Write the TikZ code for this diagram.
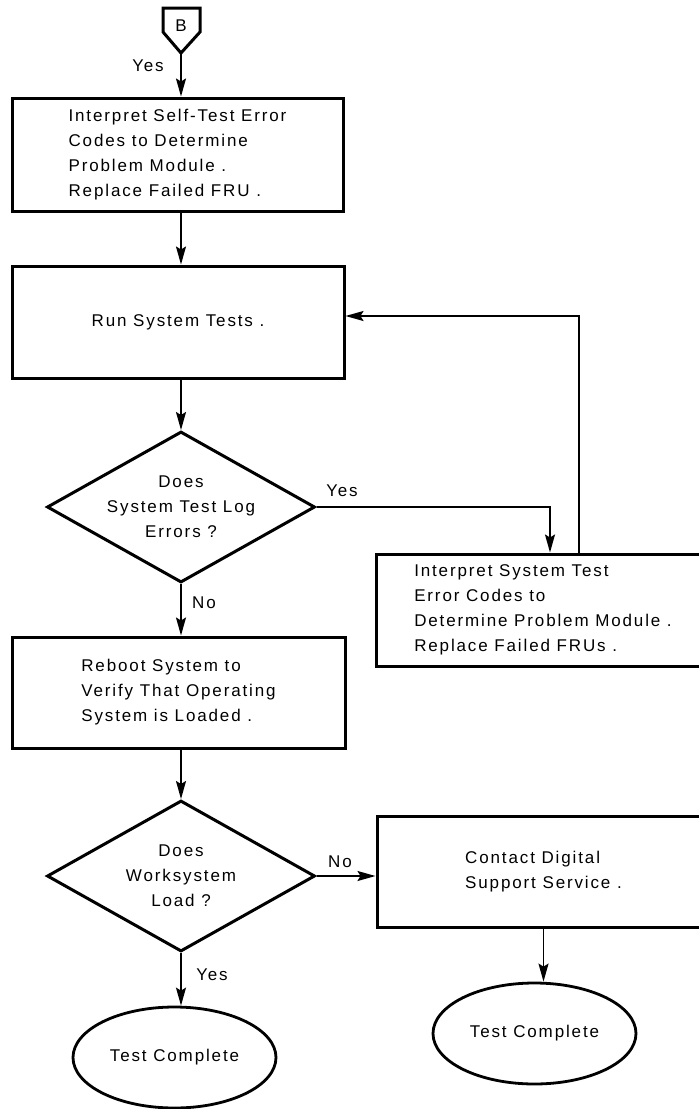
\documentclass[tikz,border=0pt]{standalone}
\usepackage{fontspec}
\setmainfont{Liberation Sans}[LetterSpace=11]
\usetikzlibrary{shapes.geometric, arrows.meta}

\begin{document}
\begin{tikzpicture}[x=1pt, y=-1pt,
  font=\fontsize{17}{25}\selectfont,
  procbox/.style={draw, line width=3pt, align=left, inner sep=0pt},
  decision/.style={draw, diamond, line width=3pt, align=center, inner sep=-45pt,
    minimum width=268pt, minimum height=151pt},
  terminal/.style={draw, ellipse, line width=2.8pt, inner sep=0pt,
    minimum width=203pt, minimum height=101pt},
  conn/.style={line width=1.6pt, -{Stealth[length=18pt, width=10pt, inset=3pt]}}]
\useasboundingbox (0,0) rectangle (699,1109);

% off-page connector
\node (conB) at (181,26) {B};
\draw[line width=3pt] (163,8) -- (200,8) -- (200,32) -- (181,53) -- (163,32) -- cycle;
\coordinate (conBtip) at (181,53);

% boxes
\node[procbox, minimum width=331pt, minimum height=113pt] (selftest) at (177.5,154.5)
  {Interpret Self-Test Error\\Codes to Determine\\Problem Module .\\Replace Failed FRU .};
\node[procbox, minimum width=332pt, minimum height=112pt] (runtests) at (178,322)
  {Run System Tests .};
\node[procbox, minimum width=334pt, minimum height=112pt] (sysfix) at (543,610)
  {Interpret System Test\\Error Codes to\\Determine Problem Module .\\Replace Failed FRUs .};
\node[procbox, minimum width=333pt, minimum height=111pt] (reboot) at (178.5,692.5)
  {Reboot System to\\Verify That Operating\\System is Loaded .};
\node[procbox, minimum width=333pt, minimum height=111pt] (contact) at (543.5,871.5)
  {Contact Digital\\Support Service .};

% decisions
\node[decision] (logerrors) at (181,507) {Does\\System Test Log\\Errors ?};
\node[decision] (wsload) at (181,876) {Does\\Worksystem\\Load ?};

% end points
\node[terminal] (donea) at (174.5,1057.5) {Test Complete};
\node[terminal] (doneb) at (534.5,1033.5) {Test Complete};

% connectors
\draw[conn] (conBtip) -- (selftest.north -| conBtip);
\draw[conn] (selftest.south -| logerrors) -- (runtests.north -| logerrors);
\draw[conn] (runtests.south -| logerrors) -- (logerrors.north);
\draw[conn] (logerrors.east) -| ([xshift=7pt]sysfix.north);
\draw[conn] ([xshift=36pt]sysfix.north) |- ([yshift=6pt]runtests.east);
\draw[conn] (logerrors.south) -- (reboot.north -| logerrors);
\draw[conn] (reboot.south -| logerrors) -- (wsload.north);
\draw[conn] (wsload.east) -- (contact.west |- wsload.east);
\draw[conn] (wsload.south) -- (wsload.south |- donea.north);
\draw[conn] (contact.south) -- (contact.south |- doneb.north);

% labels
\node (yesa) at (148,66) {Yes};
\node (yesb) at (342,491) {Yes};
\node (noa) at (204,603) {No};
\node (nob) at (340,862) {No};
\node (yesc) at (212,975) {Yes};
\end{tikzpicture}
\end{document}
